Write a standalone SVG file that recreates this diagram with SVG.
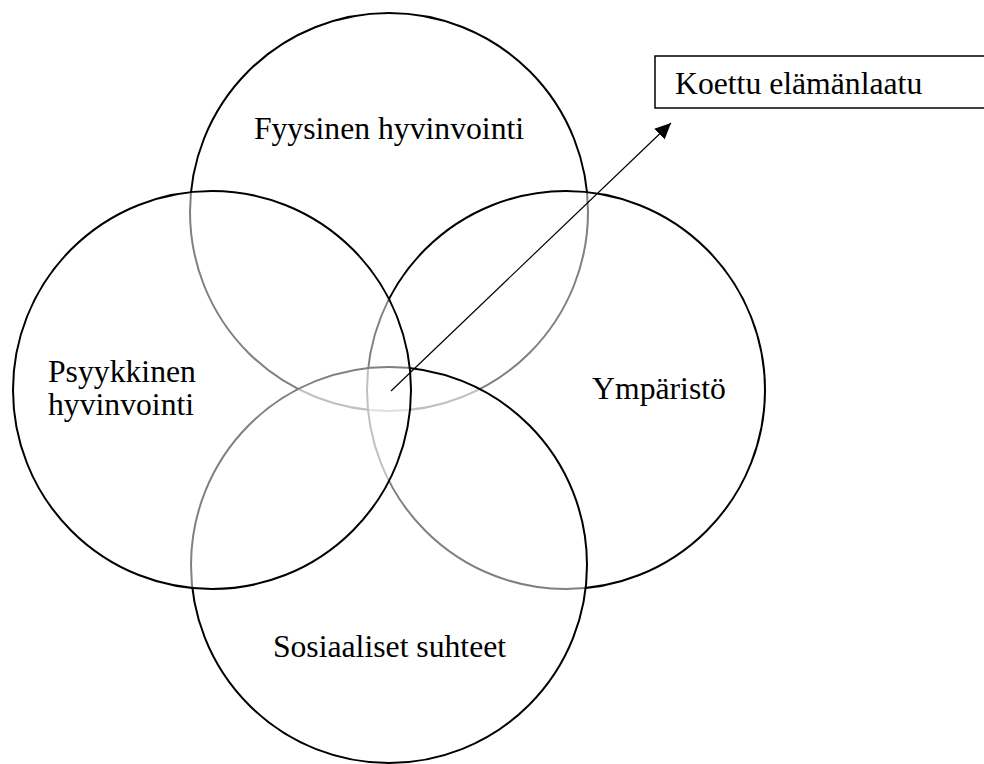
<svg xmlns="http://www.w3.org/2000/svg" width="984" height="764" viewBox="0 0 984 764">
<style>
.c{fill:#fff;fill-opacity:0.5;stroke:#000;stroke-width:2}
.t{font-family:"Liberation Serif","Times New Roman",serif;font-size:31.7px;fill:#000}
.m{text-anchor:middle}
</style>
<defs>
<marker id="ah" markerUnits="userSpaceOnUse" markerWidth="17" markerHeight="15" refX="16" refY="7.5" orient="auto">
<path d="M0,0 L16,7.5 L0,15 Z" fill="#000"/>
</marker>
</defs>
<rect width="984" height="764" fill="#fff"/>
<g id="fyysinen"><circle class="c" cx="389" cy="212" r="199"/></g>
<g id="ymparisto"><circle class="c" cx="566" cy="390" r="199"/></g>
<g id="sosiaaliset"><circle class="c" cx="389" cy="565" r="198"/></g>
<g id="psyykkinen"><circle class="c" cx="212" cy="390" r="199"/></g>
<g id="connectors">
<line x1="391" y1="391" x2="671" y2="123" stroke="#000" stroke-width="1.2" marker-end="url(#ah)"/>
</g>
<g id="koettu">
<rect x="655" y="56" width="340" height="52" fill="#fff" stroke="#000" stroke-width="1.5"/>
<text class="t" x="675" y="94">Koettu elämänlaatu</text>
</g>
<g id="labels">
<text class="t m" x="389" y="139">Fyysinen hyvinvointi</text>
<text class="t" x="48" y="382">Psyykkinen</text>
<text class="t" x="48" y="415">hyvinvointi</text>
<text class="t m" x="659" y="399">Ympäristö</text>
<text class="t m" x="389.5" y="657">Sosiaaliset suhteet</text>
</g>
</svg>
